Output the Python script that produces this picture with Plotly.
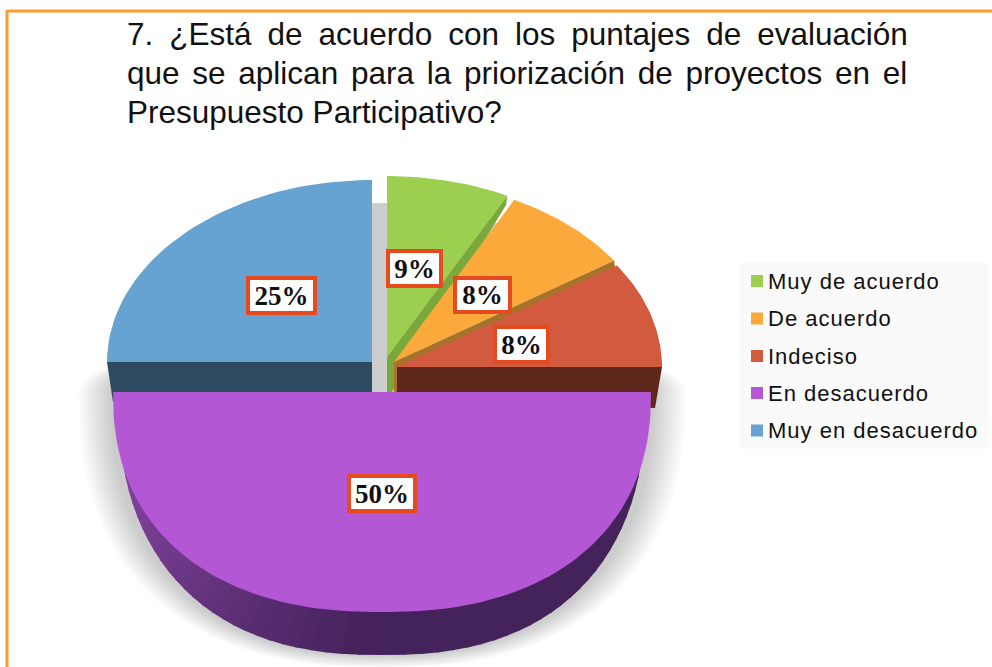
import numpy as np
import plotly.graph_objects as go

TITLE_LINES = [
    "7. ¿Está de acuerdo con los puntajes de evaluación",
    "que se aplican para la priorización de proyectos en el",
    "Presupuesto Participativo?",
]
CATEGORIES = ["Muy de acuerdo", "De acuerdo", "Indeciso", "En desacuerdo", "Muy en desacuerdo"]
VALUES = [9, 8, 8, 50, 25]
COLORS = ["#9CCF4F", "#FBA93A", "#D25A3F", "#B457D5", "#66A3D0"]
WALL_COLORS = ["#7BA83B", "#A8722A", "#5F261B", None, "#2D4A60"]

# exploded-slice geometry, in page pixels
CX = [387, 394, 397, 382, 372]
CY = [357, 362, 367, 392, 362]
RX = [265, 265, 265, 269, 265]
RY = [181, 182, 182, 220, 182]
LABEL_POS = [(414.5, 268.5), (482.5, 295), (521.5, 344.5), (382, 493.5), (281.5, 295.5)]
LABEL_SIZE = [(49, 31), (51, 30), (49, 31), (62, 31), (63, 31)]
FOREGROUND_SKEW = 6  # degrees, back of the pie is foreshortened
FRONT_ROUNDNESS = 2.3  # front half bulges past a true ellipse
WALL_ROUNDNESS = 2.4


def warp(t):
    return t - FOREGROUND_SKEW * np.sin(np.radians(2 * t))


def rim(i, t):
    a = np.radians(warp(t))
    return CX[i] + RX[i] * np.sin(a), CY[i] - RY[i] * np.cos(a)


def front_arc(cx, cy, rx, ry, deg, n):
    a = np.radians(deg)
    s, c = np.sin(a), np.cos(a)
    return (cx + rx * np.sign(s) * np.abs(s) ** (2 / n),
            cy - ry * np.sign(c) * np.abs(c) ** (2 / n))


def polygon(x, y, color, opacity=None):
    return go.Scatter(
        x=list(x), y=list(y), mode="lines", fill="toself", fillcolor=color,
        line=dict(width=0), hoverinfo="skip", showlegend=False, opacity=opacity,
    )


def mix(c1, c2, f):
    a = [int(c1[j:j + 2], 16) for j in (1, 3, 5)]
    b = [int(c2[j:j + 2], 16) for j in (1, 3, 5)]
    return "rgb(%d,%d,%d)" % tuple(a[k] + (b[k] - a[k]) * f for k in range(3))


def shadow_outline(rx, ry_top, ry_bottom):
    back = np.linspace(-90, 90, 60)
    fx, fy = front_arc(382, 392, rx, ry_bottom, np.linspace(90, 270, 90), WALL_ROUNDNESS)
    return ([*(382 + rx * np.sin(np.radians(back))), *fx],
            [*(392 - ry_top * np.cos(np.radians(back))), *fy])


fig = go.Figure()

# soft shadow behind the pie: stacked translucent layers, plus a flat core for the gap
for step in range(17):
    sx, sy = shadow_outline(304 - step * 2, 60, 276 - step * 0.75)
    fig.add_trace(polygon(sx, sy, "#000000", opacity=0.0135))
sx, sy = shadow_outline(255, 189, 250)
fig.add_trace(polygon(sx, sy, "#CDCDCD"))

# edges of the three small slices, then their tops
bounds = np.cumsum([0] + VALUES) / sum(VALUES) * 360
WALL_DROP = [(-1, 9), (1, 8), (-7, 41)]
for i in range(3):
    x0, y0 = rim(i, bounds[i + 1])
    dx, dy = WALL_DROP[i]
    fig.add_trace(polygon([CX[i], x0, x0 + dx, CX[i]], [CY[i], y0, y0 + dy, 400], WALL_COLORS[i]))
    ts = np.linspace(bounds[i], bounds[i + 1], 40)
    xs, ys = rim(i, ts)
    fig.add_trace(polygon([CX[i], *xs], [CY[i], *ys], COLORS[i]))

# blue slice
xl, yl = rim(4, 270)
fig.add_trace(polygon([xl, 372, 372, xl + 6], [yl, 362, 405, yl + 40], WALL_COLORS[4]))
ts = np.linspace(270, 360, 50)
xs, ys = rim(4, ts)
fig.add_trace(polygon([CX[4], *xs], [CY[4], *ys], COLORS[4]))

# purple wall as strips so it shades from left to right
edges = np.linspace(90, 270, 61)
for a0, a1 in zip(edges[:-1], edges[1:]):
    mid = (a0 + a1) / 2
    col = mix("#44225A", "#8E48AA", (mid - 180) / 90) if mid > 180 else "#44225A"
    span = np.clip([a0 - 0.2, a1 + 0.2], 90, 270)
    wx, wy = front_arc(382, 392, 264, 263, span, WALL_ROUNDNESS)
    fig.add_trace(polygon([382, *wx], [392, *wy], col))

ts = np.linspace(bounds[3], bounds[4], 90)
xs, ys = front_arc(CX[3], CY[3], RX[3], RY[3], ts, FRONT_ROUNDNESS)
fig.add_trace(polygon(xs, ys, COLORS[3]))

# legend
legend_y = [281, 318.5, 356, 393, 430.5]
fig.add_trace(go.Scatter(
    x=[757] * 5, y=legend_y, mode="markers",
    marker=dict(symbol="square", size=12, color=COLORS, line=dict(width=0)),
    hoverinfo="skip", showlegend=False,
))

shapes = [
    dict(type="rect", x0=740, x1=988, y0=262, y1=449, fillcolor="#FAFAFA", line_width=0, layer="below"),
    dict(type="line", x0=7, x1=992, y0=11, y1=11, line=dict(color="#FF9A2E", width=3)),
    dict(type="line", x0=7, x1=7, y0=10, y1=667, line=dict(color="#FF9A2E", width=3)),
]

annotations = []
for line, y, spacing in zip(TITLE_LINES, [34, 73, 112], [7.2, 4.0, 0]):
    annotations.append(dict(
        x=125, y=y, xref="x", yref="y", xanchor="left", yanchor="middle", showarrow=False,
        text=f'<span style="word-spacing:{spacing}px">{line}</span>',
        font=dict(family="Liberation Sans", size=31.5, color="#111111"),
    ))
for name, y in zip(CATEGORIES, legend_y):
    annotations.append(dict(
        x=766, y=y, xref="x", yref="y", xanchor="left", yanchor="middle", showarrow=False,
        text=f'<span style="letter-spacing:1px">{name}</span>',
        font=dict(family="Liberation Sans", size=22, color="#111111"),
    ))
for v, (x, y), (w, h) in zip(VALUES, LABEL_POS, LABEL_SIZE):
    annotations.append(dict(
        x=x, y=y, xref="x", yref="y", showarrow=False, text=f"<b>{v}%</b>",
        font=dict(family="Liberation Serif", size=27, color="#111111"),
        bgcolor="#FFFFFF", bordercolor="#E84A1F", borderwidth=4, borderpad=0,
        width=w, height=h, align="center", valign="middle",
    ))

fig.update_layout(
    width=992, height=667, margin=dict(l=0, r=0, t=0, b=0),
    paper_bgcolor="#FFFFFF", plot_bgcolor="#FFFFFF",
    xaxis=dict(range=[0, 992], visible=False, fixedrange=True),
    yaxis=dict(range=[667, 0], visible=False, fixedrange=True),
    shapes=shapes, annotations=annotations, showlegend=False,
)
# the page's default body margin would push the figure off the window
fig.write_html("out.html", config=dict(displayModeBar=False),
               post_script="document.body.style.margin='0';document.body.style.overflow='hidden';")
